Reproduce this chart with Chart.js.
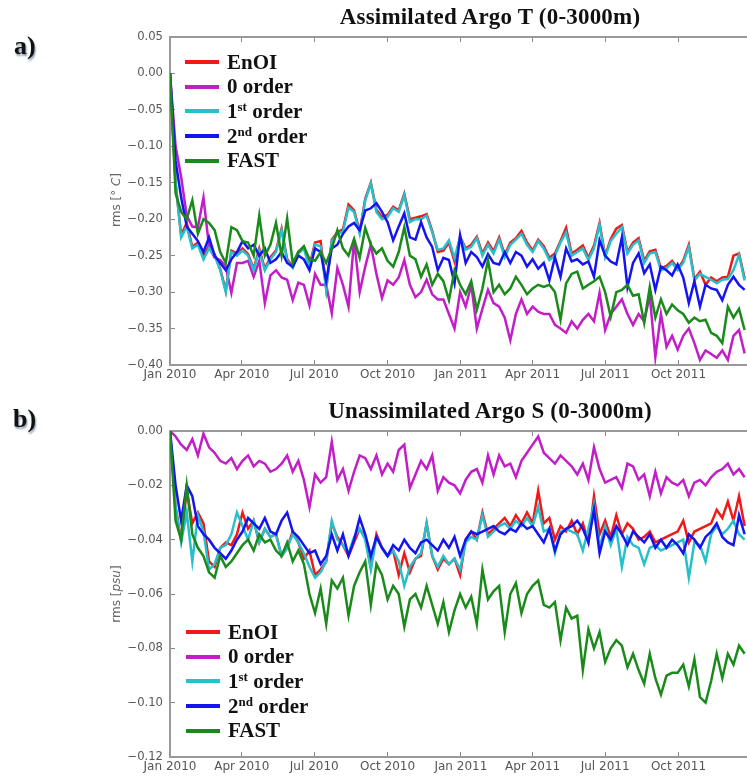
<!DOCTYPE html>
<html>
<head>
<meta charset="utf-8">
<script src="https://cdn.jsdelivr.net/npm/chart.js@4.4.1/dist/chart.umd.min.js"></script>
<style>
  body { margin: 0; background: #fff; }
  #page { position: relative; width: 747px; height: 776px; overflow: hidden; background: #fff;
          font-family: "Liberation Serif", "Times New Roman", serif; }
  canvas { position: absolute; left: 0; }
  #chartA { top: 0; }
  #chartB { top: 390px; }
  .tag { position: absolute; font-weight: bold; font-size: 26px; color: #111;
         text-shadow: 1px 2px 2px #8a9ab0; }
  .title { position: absolute; left: 170px; width: 640px; text-align: center;
           font-weight: bold; font-size: 23px; letter-spacing: 0.2px; color: #111; }
  .ytitle { position: absolute; white-space: nowrap; transform: translate(-50%, -50%) rotate(-90deg);
            font-family: "DejaVu Sans", sans-serif; font-size: 12px; color: #666; }
  .legend { position: absolute; }
  .legend .row { display: flex; align-items: center; height: 24.6px; }
  .legend .swatch { width: 34px; height: 4px; margin-right: 8px; }
  .legend .txt { font-weight: bold; font-size: 21px; color: #111; line-height: 1; }
  .legend sup { font-size: 13px; vertical-align: 7px; }
</style>
</head>
<body>
<div id="page">
  <canvas id="chartA" width="747" height="390"></canvas>
  <canvas id="chartB" width="747" height="386"></canvas>
  <div class="tag" style="left:14px; top:31px;">a)</div>
  <div class="tag" style="left:13px; top:404px;">b)</div>
  <div class="title" style="top:4px;">Assimilated Argo T (0-3000m)</div>
  <div class="title" style="top:398px;">Unassimilated Argo S (0-3000m)</div>
  <div class="ytitle" style="left:116px; top:200px;">rms [<i>° C</i>]</div>
  <div class="ytitle" style="left:116px; top:594px;">rms [<i>psu</i>]</div>
  <div class="legend" id="legendA" style="left:185px; top:50px;"></div>
  <div class="legend" id="legendB" style="left:186px; top:620px;"></div>
</div>
<script>
// weekly rms difference, Jan 2010 - Dec 2011
const seriesNames = ['EnOI', '0 order', '1st order', '2nd order', 'FAST'];
const seriesColors = ['#f01818', '#c21ec8', '#25c0cc', '#1414f0', '#1a8a1a'];

const tickDays = [0, 90, 181, 273, 365, 455, 546, 638];
const tickLabels = ['Jan 2010', 'Apr 2010', 'Jul 2010', 'Oct 2010', 'Jan 2011', 'Apr 2011', 'Jul 2011', 'Oct 2011'];

const tempTicks = [0.05, 0.00, -0.05, -0.10, -0.15, -0.20, -0.25, -0.30, -0.35, -0.40];
const saltTicks = [0.00, -0.02, -0.04, -0.06, -0.08, -0.10, -0.12];

// panel a: temperature (deg C)
const tempEnOI = [0.000, -0.150, -0.222, -0.205, -0.238, -0.232, -0.252, -0.236, -0.248, -0.268,
  -0.298, -0.243, -0.247, -0.240, -0.248, -0.268, -0.240, -0.268, -0.252, -0.243,
  -0.213, -0.255, -0.265, -0.245, -0.238, -0.264, -0.232, -0.230, -0.295, -0.228,
  -0.218, -0.214, -0.180, -0.188, -0.217, -0.172, -0.150, -0.187, -0.197, -0.194,
  -0.183, -0.188, -0.165, -0.200, -0.198, -0.196, -0.193, -0.216, -0.245, -0.243,
  -0.232, -0.258, -0.224, -0.240, -0.235, -0.224, -0.247, -0.232, -0.244, -0.225,
  -0.249, -0.232, -0.226, -0.216, -0.232, -0.243, -0.228, -0.237, -0.253, -0.247,
  -0.230, -0.212, -0.247, -0.242, -0.236, -0.253, -0.236, -0.205, -0.250, -0.227,
  -0.213, -0.208, -0.245, -0.232, -0.226, -0.257, -0.244, -0.242, -0.267, -0.264,
  -0.257, -0.268, -0.257, -0.235, -0.282, -0.272, -0.290, -0.280, -0.285, -0.280,
  -0.279, -0.250, -0.247, -0.281];
const tempOrder0 = [0.000, -0.100, -0.142, -0.195, -0.210, -0.211, -0.170, -0.238, -0.253, -0.256,
  -0.265, -0.301, -0.260, -0.260, -0.257, -0.279, -0.257, -0.315, -0.277, -0.270,
  -0.280, -0.283, -0.311, -0.287, -0.290, -0.318, -0.275, -0.290, -0.290, -0.329,
  -0.267, -0.290, -0.320, -0.228, -0.300, -0.265, -0.235, -0.275, -0.308, -0.284,
  -0.290, -0.280, -0.256, -0.290, -0.307, -0.300, -0.283, -0.303, -0.310, -0.310,
  -0.330, -0.350, -0.300, -0.320, -0.290, -0.350, -0.323, -0.297, -0.315, -0.320,
  -0.335, -0.366, -0.330, -0.310, -0.330, -0.320, -0.327, -0.330, -0.330, -0.345,
  -0.350, -0.356, -0.340, -0.350, -0.338, -0.330, -0.340, -0.301, -0.352, -0.330,
  -0.320, -0.310, -0.330, -0.345, -0.330, -0.340, -0.305, -0.389, -0.330, -0.375,
  -0.360, -0.379, -0.360, -0.350, -0.370, -0.393, -0.380, -0.385, -0.390, -0.380,
  -0.393, -0.360, -0.352, -0.384];
const tempOrder1 = [0.000, -0.150, -0.225, -0.210, -0.240, -0.235, -0.255, -0.240, -0.250, -0.270,
  -0.300, -0.245, -0.250, -0.243, -0.250, -0.270, -0.243, -0.270, -0.255, -0.245,
  -0.215, -0.257, -0.267, -0.247, -0.240, -0.267, -0.235, -0.237, -0.297, -0.230,
  -0.220, -0.217, -0.184, -0.190, -0.220, -0.174, -0.151, -0.190, -0.200, -0.197,
  -0.185, -0.190, -0.167, -0.204, -0.200, -0.200, -0.195, -0.218, -0.242, -0.240,
  -0.229, -0.253, -0.225, -0.242, -0.238, -0.226, -0.250, -0.235, -0.247, -0.228,
  -0.252, -0.235, -0.228, -0.220, -0.235, -0.245, -0.230, -0.240, -0.256, -0.250,
  -0.232, -0.218, -0.250, -0.245, -0.240, -0.256, -0.240, -0.208, -0.252, -0.230,
  -0.220, -0.211, -0.247, -0.235, -0.229, -0.260, -0.247, -0.245, -0.270, -0.267,
  -0.260, -0.270, -0.260, -0.238, -0.284, -0.275, -0.279, -0.283, -0.288, -0.283,
  -0.282, -0.270, -0.249, -0.284];
const tempOrder2 = [0.000, -0.120, -0.170, -0.210, -0.220, -0.230, -0.245, -0.225, -0.250, -0.260,
  -0.270, -0.255, -0.245, -0.230, -0.240, -0.235, -0.250, -0.240, -0.260, -0.255,
  -0.245, -0.260, -0.265, -0.250, -0.255, -0.270, -0.240, -0.245, -0.285, -0.240,
  -0.235, -0.220, -0.210, -0.205, -0.215, -0.188, -0.185, -0.178, -0.190, -0.204,
  -0.229, -0.210, -0.192, -0.225, -0.228, -0.204, -0.225, -0.238, -0.270, -0.253,
  -0.256, -0.288, -0.222, -0.260, -0.245, -0.252, -0.265, -0.248, -0.260, -0.262,
  -0.245, -0.260, -0.245, -0.250, -0.265, -0.255, -0.268, -0.260, -0.284, -0.252,
  -0.279, -0.240, -0.258, -0.255, -0.262, -0.258, -0.279, -0.229, -0.250, -0.258,
  -0.262, -0.225, -0.293, -0.260, -0.247, -0.274, -0.262, -0.297, -0.265, -0.270,
  -0.277, -0.262, -0.280, -0.315, -0.285, -0.320, -0.290, -0.295, -0.297, -0.311,
  -0.290, -0.279, -0.290, -0.297];
const tempFast = [0.000, -0.164, -0.190, -0.200, -0.174, -0.220, -0.200, -0.205, -0.215, -0.245,
  -0.260, -0.211, -0.215, -0.230, -0.232, -0.250, -0.195, -0.250, -0.235, -0.205,
  -0.250, -0.199, -0.260, -0.245, -0.237, -0.255, -0.257, -0.245, -0.260, -0.240,
  -0.215, -0.240, -0.250, -0.227, -0.253, -0.212, -0.235, -0.247, -0.240, -0.257,
  -0.265, -0.245, -0.211, -0.250, -0.255, -0.279, -0.262, -0.290, -0.275, -0.285,
  -0.311, -0.270, -0.290, -0.303, -0.285, -0.324, -0.295, -0.256, -0.300, -0.290,
  -0.303, -0.295, -0.279, -0.290, -0.303, -0.295, -0.290, -0.293, -0.290, -0.300,
  -0.338, -0.288, -0.275, -0.272, -0.295, -0.290, -0.285, -0.279, -0.300, -0.334,
  -0.300, -0.297, -0.290, -0.305, -0.303, -0.342, -0.293, -0.335, -0.310, -0.330,
  -0.317, -0.325, -0.330, -0.342, -0.335, -0.340, -0.338, -0.356, -0.360, -0.370,
  -0.320, -0.335, -0.323, -0.352];

// panel b: salinity (psu)
const saltEnOI = [0.000, -0.028, -0.040, -0.022, -0.034, -0.030, -0.034, -0.048, -0.050, -0.043,
  -0.041, -0.042, -0.038, -0.030, -0.036, -0.033, -0.041, -0.036, -0.039, -0.038,
  -0.046, -0.043, -0.037, -0.041, -0.047, -0.044, -0.053, -0.051, -0.048, -0.034,
  -0.039, -0.042, -0.046, -0.041, -0.036, -0.039, -0.050, -0.038, -0.043, -0.046,
  -0.044, -0.053, -0.045, -0.052, -0.047, -0.046, -0.034, -0.046, -0.051, -0.047,
  -0.049, -0.047, -0.053, -0.040, -0.037, -0.040, -0.030, -0.038, -0.036, -0.034,
  -0.032, -0.035, -0.031, -0.034, -0.030, -0.034, -0.022, -0.034, -0.032, -0.040,
  -0.035, -0.037, -0.033, -0.038, -0.034, -0.041, -0.024, -0.038, -0.033, -0.039,
  -0.031, -0.038, -0.034, -0.036, -0.040, -0.039, -0.037, -0.041, -0.040, -0.039,
  -0.038, -0.037, -0.033, -0.041, -0.037, -0.036, -0.035, -0.034, -0.029, -0.032,
  -0.026, -0.033, -0.024, -0.035];
const saltOrder0 = [0.000, -0.002, -0.005, -0.007, -0.003, -0.009, -0.001, -0.006, -0.008, -0.011,
  -0.012, -0.010, -0.014, -0.011, -0.009, -0.013, -0.011, -0.012, -0.015, -0.014,
  -0.012, -0.009, -0.015, -0.011, -0.018, -0.028, -0.016, -0.019, -0.017, -0.004,
  -0.018, -0.014, -0.022, -0.015, -0.009, -0.010, -0.014, -0.009, -0.016, -0.012,
  -0.015, -0.007, -0.005, -0.021, -0.016, -0.011, -0.014, -0.009, -0.022, -0.017,
  -0.019, -0.020, -0.023, -0.018, -0.015, -0.014, -0.019, -0.009, -0.016, -0.009,
  -0.013, -0.012, -0.017, -0.011, -0.008, -0.005, -0.002, -0.008, -0.010, -0.012,
  -0.009, -0.011, -0.013, -0.016, -0.012, -0.018, -0.006, -0.014, -0.019, -0.018,
  -0.017, -0.021, -0.012, -0.013, -0.018, -0.016, -0.024, -0.015, -0.023, -0.017,
  -0.019, -0.020, -0.018, -0.024, -0.019, -0.018, -0.020, -0.017, -0.015, -0.014,
  -0.012, -0.016, -0.014, -0.017];
const saltOrder1 = [0.000, -0.028, -0.041, -0.030, -0.048, -0.031, -0.037, -0.051, -0.049, -0.043,
  -0.042, -0.038, -0.030, -0.035, -0.040, -0.033, -0.041, -0.036, -0.039, -0.038,
  -0.046, -0.043, -0.038, -0.041, -0.045, -0.050, -0.054, -0.052, -0.048, -0.033,
  -0.040, -0.042, -0.045, -0.039, -0.036, -0.040, -0.051, -0.039, -0.043, -0.046,
  -0.044, -0.048, -0.057, -0.050, -0.047, -0.045, -0.034, -0.046, -0.050, -0.046,
  -0.049, -0.047, -0.051, -0.041, -0.039, -0.040, -0.031, -0.039, -0.037, -0.035,
  -0.034, -0.036, -0.033, -0.035, -0.032, -0.035, -0.028, -0.037, -0.036, -0.045,
  -0.037, -0.036, -0.037, -0.038, -0.044, -0.036, -0.027, -0.043, -0.035, -0.042,
  -0.036, -0.050, -0.039, -0.042, -0.043, -0.049, -0.043, -0.042, -0.044, -0.043,
  -0.042, -0.041, -0.040, -0.054, -0.041, -0.042, -0.048, -0.038, -0.035, -0.038,
  -0.036, -0.033, -0.038, -0.040];
const saltOrder2 = [0.000, -0.020, -0.033, -0.020, -0.024, -0.035, -0.038, -0.040, -0.043, -0.045,
  -0.047, -0.044, -0.040, -0.037, -0.032, -0.034, -0.036, -0.032, -0.037, -0.038,
  -0.033, -0.030, -0.037, -0.039, -0.042, -0.045, -0.044, -0.049, -0.046, -0.038,
  -0.044, -0.038, -0.046, -0.040, -0.032, -0.038, -0.046, -0.039, -0.043, -0.046,
  -0.042, -0.044, -0.040, -0.043, -0.045, -0.041, -0.040, -0.042, -0.044, -0.040,
  -0.043, -0.039, -0.046, -0.040, -0.037, -0.038, -0.037, -0.036, -0.035, -0.037,
  -0.038, -0.036, -0.037, -0.034, -0.036, -0.035, -0.038, -0.041, -0.036, -0.044,
  -0.038, -0.036, -0.035, -0.033, -0.036, -0.041, -0.029, -0.045, -0.037, -0.040,
  -0.035, -0.038, -0.042, -0.037, -0.039, -0.041, -0.038, -0.043, -0.040, -0.043,
  -0.040, -0.042, -0.045, -0.038, -0.040, -0.043, -0.039, -0.037, -0.034, -0.039,
  -0.041, -0.042, -0.031, -0.038];
const saltFast = [0.000, -0.033, -0.040, -0.020, -0.038, -0.043, -0.046, -0.052, -0.054, -0.046,
  -0.050, -0.048, -0.045, -0.042, -0.040, -0.044, -0.038, -0.041, -0.040, -0.044,
  -0.046, -0.041, -0.048, -0.044, -0.049, -0.060, -0.067, -0.058, -0.071, -0.055,
  -0.058, -0.054, -0.068, -0.057, -0.052, -0.048, -0.064, -0.049, -0.053, -0.062,
  -0.057, -0.060, -0.072, -0.062, -0.060, -0.065, -0.057, -0.064, -0.071, -0.063,
  -0.074, -0.066, -0.060, -0.065, -0.061, -0.071, -0.051, -0.062, -0.059, -0.057,
  -0.074, -0.060, -0.056, -0.067, -0.060, -0.057, -0.055, -0.064, -0.065, -0.063,
  -0.077, -0.065, -0.069, -0.068, -0.088, -0.073, -0.080, -0.074, -0.085, -0.080,
  -0.077, -0.079, -0.087, -0.082, -0.088, -0.093, -0.082, -0.091, -0.097, -0.090,
  -0.089, -0.089, -0.086, -0.094, -0.084, -0.098, -0.100, -0.092, -0.082, -0.091,
  -0.082, -0.086, -0.079, -0.082];

// days since 1 Jan 2010, one value per week
const weekDay = tempEnOI.map((_, i) => i * 7);
const lastDay = 724;

const axisGrey = '#999';
const xFont = { family: 'DejaVu Sans', size: 12 };
const yFont = { family: 'DejaVu Sans', size: 11.6 };

function fmt(v) {
  return v.toFixed(2).replace('-', '\u2212');
}

function makeChart(id, series, yTicks, padTop, xAxisHeight) {
  const datasets = series.map((vals, k) => ({
    label: seriesNames[k],
    data: vals.map((v, i) => ({ x: weekDay[i], y: v })),
    borderColor: seriesColors[k],
    borderWidth: 2.5,
    pointRadius: 0,
    fill: false,
    tension: 0,
    order: series.length - k
  }));
  const dayTicks = s => { s.ticks = tickDays.map(v => ({ value: v })); };
  return new Chart(document.getElementById(id), {
    type: 'line',
    data: { datasets },
    options: {
      responsive: false,
      animation: false,
      devicePixelRatio: 1,
      layout: { padding: { top: padTop, left: 0, right: 0, bottom: 0 } },
      plugins: { legend: { display: false }, tooltip: { enabled: false } },
      scales: {
        x: {
          type: 'linear', min: 0, max: lastDay,
          afterBuildTicks: dayTicks,
          afterFit: s => { s.height = xAxisHeight; },
          ticks: { autoSkip: false, maxRotation: 0, padding: 8, color: '#555', font: xFont,
                   callback: (v, i) => tickLabels[i] },
          grid: { drawOnChartArea: false, tickLength: -5, color: '#888', lineWidth: 1 },
          border: { color: axisGrey, width: 2 }
        },
        xTop: {
          type: 'linear', position: 'top', min: 0, max: lastDay,
          afterBuildTicks: dayTicks,
          afterFit: s => { s.height = 0; },
          ticks: { display: false },
          grid: { drawOnChartArea: false, tickLength: -5, color: '#888', lineWidth: 1 },
          border: { color: axisGrey, width: 2 }
        },
        y: {
          type: 'linear', min: yTicks[yTicks.length - 1], max: yTicks[0],
          afterBuildTicks: s => { s.ticks = yTicks.map(v => ({ value: v })); },
          afterFit: s => { s.width = 170; },
          ticks: { padding: 12, color: '#555', font: yFont, callback: v => fmt(v) },
          grid: { drawOnChartArea: false, tickLength: -5, color: '#888', lineWidth: 1 },
          border: { color: axisGrey, width: 2 }
        }
      }
    }
  });
}

function buildLegend(id) {
  const box = document.getElementById(id);
  seriesNames.forEach((name, k) => {
    const row = document.createElement('div');
    row.className = 'row';
    const sw = document.createElement('span');
    sw.className = 'swatch';
    sw.style.background = seriesColors[k];
    const txt = document.createElement('span');
    txt.className = 'txt';
    txt.innerHTML = name.replace(/^(\d)(st|nd)/, '$1<sup>$2</sup>');
    row.appendChild(sw);
    row.appendChild(txt);
    box.appendChild(row);
  });
}

makeChart('chartA', [tempEnOI, tempOrder0, tempOrder1, tempOrder2, tempFast], tempTicks, 37, 25);
makeChart('chartB', [saltEnOI, saltOrder0, saltOrder1, saltOrder2, saltFast], saltTicks, 41, 16);
buildLegend('legendA');
buildLegend('legendB');
</script>
</body>
</html>
